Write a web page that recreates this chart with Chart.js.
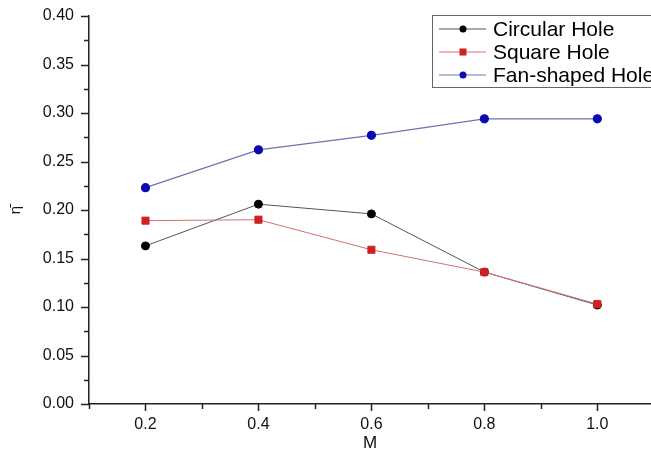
<!DOCTYPE html>
<html>
<head>
<meta charset="utf-8">
<script src="https://cdn.jsdelivr.net/npm/chart.js@4/dist/chart.umd.min.js"></script>
<style>
  html, body { margin: 0; padding: 0; background: #fff; overflow: hidden; width: 651px; height: 459px; }
  canvas { display: block; }
</style>
</head>
<body>
<canvas id="c" width="651" height="459"></canvas>
<script>
const M = [0.2, 0.4, 0.6, 0.8, 1.0];
const circularHole = [0.163, 0.206, 0.196, 0.136, 0.102];
const squareHole = [0.189, 0.190, 0.159, 0.136, 0.103];
const fanShapedHole = [0.223, 0.262, 0.277, 0.294, 0.294];
const seriesNames = ['Circular Hole', 'Square Hole', 'Fan-shaped Hole'];
const xLabels = [0.2, 0.4, 0.6, 0.8, 1.0];
const yLabels = [0, 0.05, 0.1, 0.15, 0.2, 0.25, 0.3, 0.35, 0.4];

const FONT = "'Liberation Sans', Arial, sans-serif";

function pts(arr) { return M.map((x, i) => ({ x: x, y: arr[i] })); }

const legendPlugin = {
  id: 'boxLegend',
  afterDraw(chart) {
    const ctx = chart.ctx;
    ctx.save();
    ctx.strokeStyle = '#666';
    ctx.lineWidth = 1;
    ctx.strokeRect(432.5, 15.5, 240, 72);
    const rows = [29, 52, 75];
    chart.data.datasets.forEach((ds, i) => {
      const y = rows[i];
      ctx.strokeStyle = ds.borderColor;
      ctx.lineWidth = 1;
      ctx.beginPath(); ctx.moveTo(439, y); ctx.lineTo(486, y); ctx.stroke();
      ctx.fillStyle = ds.pointBackgroundColor;
      if (ds.pointStyle === 'rect') {
        ctx.fillRect(463 - 3.5, y - 3.5, 7, 7);
      } else {
        ctx.beginPath(); ctx.arc(463, y, 3.5, 0, Math.PI * 2); ctx.fill();
      }
      ctx.fillStyle = '#000';
      ctx.font = '21px ' + FONT;
      ctx.textBaseline = 'middle';
      ctx.textAlign = 'left';
      ctx.fillText(ds.label, 493, y + 1);
    });
    ctx.restore();
  }
};

const tickPlugin = {
  id: 'axisTicks',
  afterDraw(chart) {
    const ctx = chart.ctx;
    const xs = chart.scales.x, ys = chart.scales.y;
    const ca = chart.chartArea;
    ctx.save();
    ctx.strokeStyle = '#222';
    ctx.lineWidth = 1.5;
    ys.ticks.forEach(t => {
      const major = Math.round(t.value * 1000) % 50 === 0;
      const py = Math.round(ys.getPixelForValue(t.value)) + 0.5;
      const len = major ? 8 : 5;
      ctx.beginPath(); ctx.moveTo(ca.left, py); ctx.lineTo(ca.left - len, py); ctx.stroke();
    });
    xs.ticks.forEach(t => {
      if (Math.abs(t.value * 10 - Math.round(t.value * 10)) > 1e-6) return;
      const major = xLabels.some(v => Math.abs(v - t.value) < 1e-6);
      const px = Math.round(xs.getPixelForValue(t.value)) + 0.5;
      const len = major ? 7 : 5;
      ctx.beginPath(); ctx.moveTo(px, ca.bottom); ctx.lineTo(px, ca.bottom + len); ctx.stroke();
    });
    ctx.restore();
  }
};

new Chart(document.getElementById('c'), {
  type: 'line',
  data: {
    datasets: [
      { label: seriesNames[0], order: 2, data: pts(circularHole), borderColor: '#555555', backgroundColor: '#000', pointBackgroundColor: '#000000', pointBorderColor: '#000000', pointStyle: 'circle', pointRadius: 4, borderWidth: 1, tension: 0 },
      { label: seriesNames[1], order: 1, data: pts(squareHole), borderColor: '#d97070', backgroundColor: '#cc2222', pointBackgroundColor: '#cc2222', pointBorderColor: '#cc2222', pointStyle: 'rect', pointRadius: 5, borderWidth: 1, tension: 0 },
      { label: seriesNames[2], order: 0, data: pts(fanShapedHole), borderColor: '#6874b4', backgroundColor: '#0a0ab0', pointBackgroundColor: '#0a0ab0', pointBorderColor: '#0a0ab0', pointStyle: 'circle', pointRadius: 4, borderWidth: 1.2, tension: 0 }
    ]
  },
  options: {
    responsive: false,
    animation: false,
    layout: { autoPadding: false, padding: { top: 16, right: 0, left: 0, bottom: 0 } },
    plugins: { legend: { display: false }, tooltip: { enabled: false } },
    scales: {
      x: {
        type: 'linear', min: 0.1, max: 1.095,
        afterFit(s) { s.height = 55; s.paddingLeft = 0; s.paddingRight = 0; },
        ticks: {
          stepSize: 0.1, includeBounds: false, color: '#111', padding: 11, maxRotation: 0, autoSkip: false,
          font: { family: FONT, size: 16 },
          callback: v => xLabels.some(l => Math.abs(l - v) < 1e-6) ? v.toFixed(1) : ''
        },
        grid: { display: false, drawTicks: false },
        border: { display: true, color: '#222', width: 1.5 },
        title: { display: true, text: 'M', color: '#111', font: { family: FONT, size: 17 }, padding: { top: 0, bottom: 5 } }
      },
      y: {
        type: 'linear', min: 0, max: 0.4,
        afterFit(s) { s.width = 89; s.paddingTop = 0; s.paddingBottom = 0; },
        ticks: {
          stepSize: 0.025, color: '#111', padding: 15, autoSkip: false,
          font: { family: FONT, size: 16 },
          callback: v => yLabels.some(l => Math.abs(l - v) < 1e-6) ? v.toFixed(2) : ''
        },
        grid: { display: false, drawTicks: false },
        border: { display: true, color: '#222', width: 1.5 },
        title: { display: true, text: 'η̄', color: '#111', font: { family: FONT, size: 15 }, padding: { top: 7, bottom: 0 } }
      }
    }
  },
  plugins: [tickPlugin, legendPlugin]
});
</script>
</body>
</html>
